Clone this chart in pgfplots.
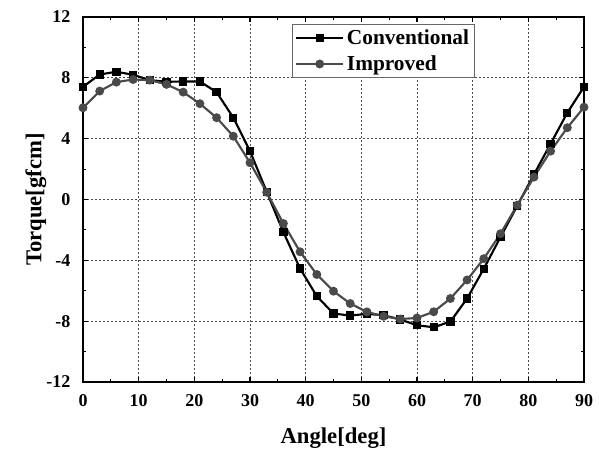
\documentclass[border=0pt]{standalone}
\usepackage{pgfplots}
\pgfplotsset{compat=1.18}
\usepackage{fontspec}
\setmainfont{Liberation Serif}
\definecolor{impgray}{HTML}{4A4A4A}
\begin{document}
\begin{tikzpicture}
\begin{axis}[
  name=ax,
  scale only axis,
  width=375.75pt, height=273.75pt,
  xmin=0, xmax=90, ymin=-12, ymax=12,
  xtick={0,10,...,90}, ytick={-12,-8,...,12},
  minor x tick num=1, minor y tick num=1,
  tick align=inside,
  major tick length=4pt, minor tick length=2.5pt,
  tick style={black, line width=0.8pt},
  axis line style={line width=1pt},
  grid=major,
  major grid style={black!70, dash pattern=on 1.5pt off 1.5pt, line width=0.5pt},
  /pgf/number format/assume math mode=true,
  ticklabel style={font=\fontsize{13.5}{15}\selectfont\bfseries},
  xticklabel style={yshift=-6pt},
  yticklabel style={xshift=-6pt},
  xlabel={Angle[deg]}, ylabel={Torque[gfcm]},
  label style={font=\fontsize{17}{19}\selectfont\bfseries},
  xlabel style={yshift=-9pt},
  ylabel style={yshift=-7pt},
  legend style={at={(0.417,0.982)}, anchor=north west, draw=black!60, line width=0.8pt,
     font=\fontsize{16}{18}\selectfont\bfseries, inner sep=2pt, row sep=3pt},
  legend cell align=left,
  legend image code/.code={
    \draw[mark repeat=2,mark phase=2] plot coordinates {(0cm,0cm) (0.62cm,0cm) (1.24cm,0cm)};
  },
]
\addplot[black, line width=1.6pt, mark=square*, mark size=2.3pt, mark options={solid}] coordinates {
(0,7.41) (3,8.22) (6,8.40) (9,8.20) (12,7.85) (15,7.74) (18,7.76) (21,7.76) (24,7.06) (27,5.38)
(30,3.18) (33,0.51) (36,-2.15) (39,-4.54) (42,-6.36) (45,-7.50) (48,-7.63) (51,-7.52) (54,-7.61) (57,-7.89)
(60,-8.27) (63,-8.40) (66,-8.03) (69,-6.51) (72,-4.55) (75,-2.47) (78,-0.42) (81,1.64) (84,3.66) (87,5.70) (90,7.41)
};
\addlegendentry{Conventional}
\addplot[impgray, line width=1.6pt, mark=*, mark size=2.5pt, mark options={solid}] coordinates {
(0,6.03) (3,7.13) (6,7.72) (9,7.89) (12,7.85) (15,7.57) (18,7.06) (21,6.30) (24,5.38) (27,4.16)
(30,2.42) (33,0.48) (36,-1.58) (39,-3.44) (42,-4.93) (45,-6.03) (48,-6.84) (51,-7.39) (54,-7.68) (57,-7.86)
(60,-7.79) (63,-7.38) (66,-6.51) (69,-5.29) (72,-3.89) (75,-2.25) (78,-0.37) (81,1.47) (84,3.18) (87,4.72) (90,6.07)
};
\addlegendentry{Improved}
\end{axis}
\pgfresetboundingbox
\path ([xshift=-62.25pt,yshift=-54pt]ax.south west) rectangle ([xshift=11.25pt,yshift=12.75pt]ax.north east);
\end{tikzpicture}
\end{document}
